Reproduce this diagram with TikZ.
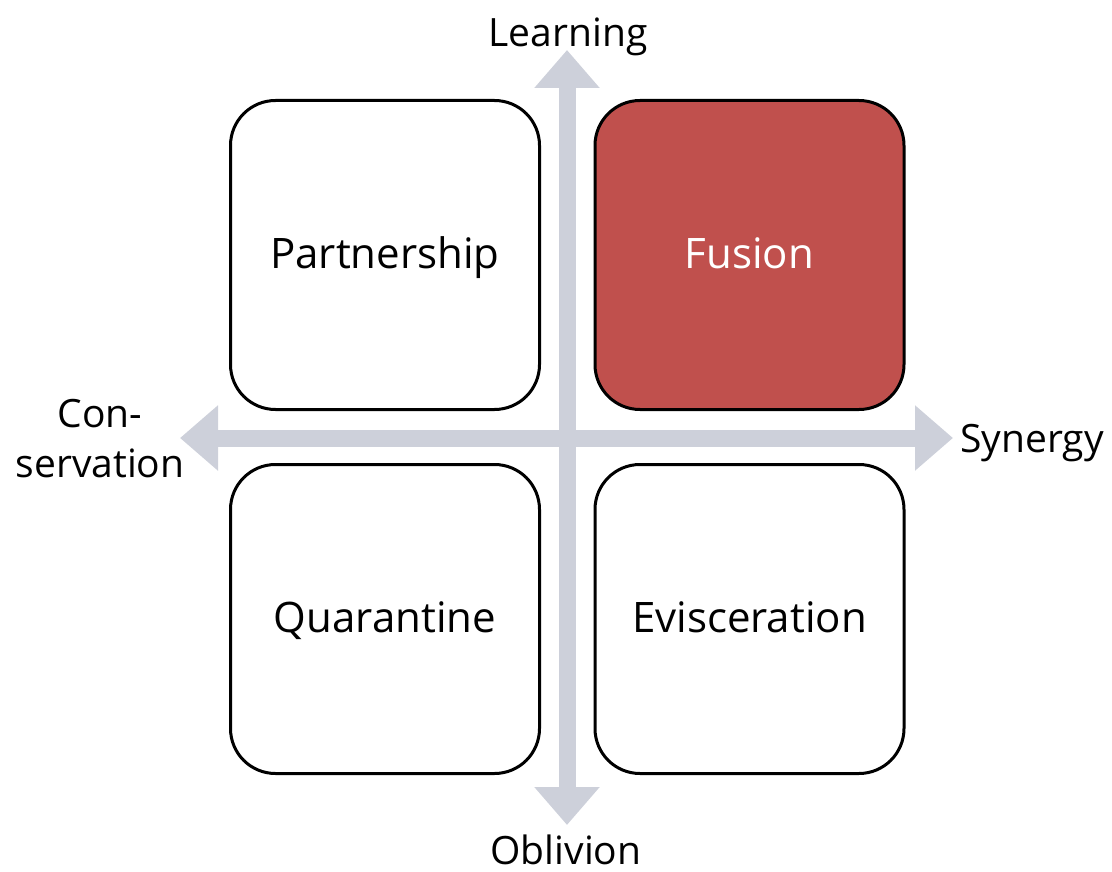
\documentclass[tikz,border=0pt]{standalone}
\usepackage{fontspec}
\setmainfont{Open Sans}
\usetikzlibrary{arrows.meta}
\definecolor{axisgray}{HTML}{CDD0DA}
\definecolor{fusionred}{HTML}{C0504D}
\begin{document}
\begin{tikzpicture}[x=1pt,y=-1pt,
  quad/.style={draw=black,line width=3pt,rounded corners=45pt,minimum width=309pt,minimum height=309pt,inner sep=0pt},
  txt/.style={font=\fontsize{42}{50}\selectfont,inner sep=0pt,anchor=base},
  lbl/.style={font=\fontsize{39}{50}\selectfont,inner sep=0pt,anchor=base},
  axis/.style={draw=axisgray,line width=17pt,{Triangle[width=63pt,length=38pt]}-{Triangle[width=63pt,length=38pt]}}]
\useasboundingbox (0,0) rectangle (1112,872);
\coordinate (top) at (567,50);
\coordinate (bot) at (567,825);
\coordinate (lft) at (180,438);
\coordinate (rgt) at (953,438);
\draw[axis] (lft) -- (rgt);
\draw[axis] (top) -- (bot);
\node[quad,fill=white] (p) at (385,255) {};
\node[quad,fill=fusionred] (f) at (749.5,255) {};
\node[quad,fill=white] (q) at (385,619) {};
\node[quad,fill=white] (e) at (749.5,619) {};
\node[txt] (pt) at ([yshift=-13pt]p.center) {Partnership};
\node[txt,text=white] (ft) at ([yshift=-13pt]f.center) {Fusion};
\node[txt] (qt) at ([yshift=-13pt]q.center) {Quarantine};
\node[txt] (et) at ([yshift=-13pt]e.center) {Eviscer\-ation};
\node[lbl] (learn) at (568,47) {Learning};
\node[lbl] (obl) at (566,864) {Oblivion};
\node[lbl,align=center] (cons) at (100,477) {Con-\\servation};
\node[lbl,anchor=base west] (syn) at (960,452) {Synergy};
\end{tikzpicture}
\end{document}
